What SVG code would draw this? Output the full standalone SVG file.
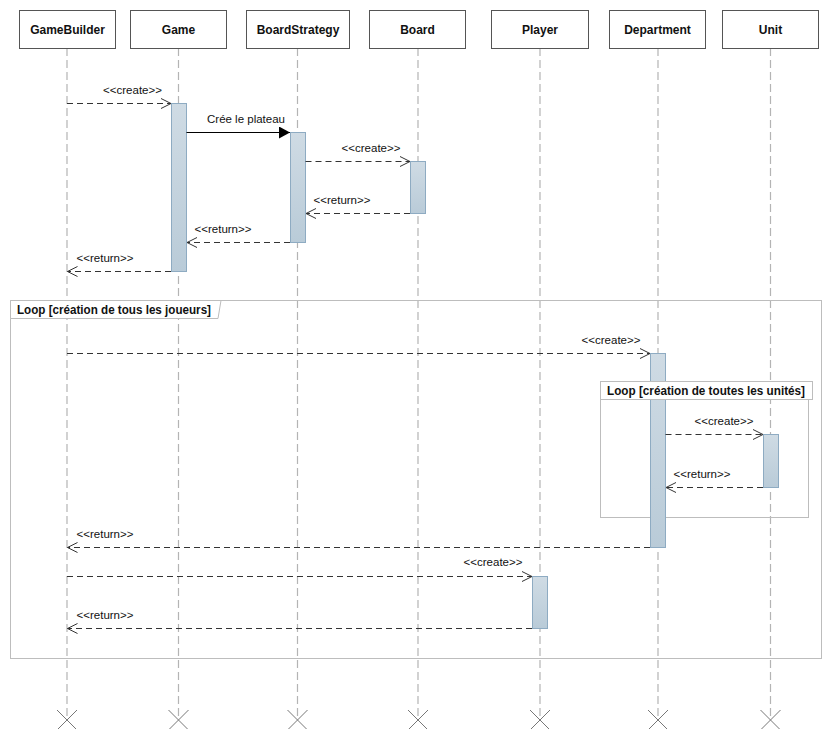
<svg xmlns="http://www.w3.org/2000/svg" width="831" height="729" viewBox="0 0 831 729">
<defs>
<linearGradient id="actg" x1="0" y1="0" x2="0" y2="1">
<stop offset="0" stop-color="#cfdbe4"/>
<stop offset="1" stop-color="#b9cbd8"/>
</linearGradient>
<marker id="open" markerWidth="12" markerHeight="12" refX="11" refY="6" orient="auto" markerUnits="userSpaceOnUse">
<path d="M1,1 L11,6 L1,11" fill="none" stroke="#333" stroke-width="1"/>
</marker>
<marker id="filled" markerWidth="12" markerHeight="12" refX="11" refY="6" orient="auto" markerUnits="userSpaceOnUse">
<path d="M0,0 L11,6 L0,12 Z" fill="#000"/>
</marker>
</defs>
<style>
.hdr{fill:#fff;stroke:#555;stroke-width:1}
.hdrt{font-family:"Liberation Sans",Arial,sans-serif;font-size:12px;font-weight:bold;fill:#111;text-anchor:middle}
.life{stroke:#b4b4b4;stroke-width:1.2;stroke-dasharray:8,4;fill:none}
.x{stroke:#777;stroke-width:1;fill:none}
.act{fill:url(#actg);stroke:#8eabc2;stroke-width:1}
.msg{stroke:#333;stroke-width:1;stroke-dasharray:6,4;fill:none;marker-end:url(#open)}
.call{stroke:#000;stroke-width:1;fill:none;marker-end:url(#filled)}
.lbl{font-family:"Liberation Sans",Arial,sans-serif;font-size:11.5px;fill:#111;text-anchor:middle}
.frame{fill:none;stroke:#bdbdbd;stroke-width:1}
.tab{fill:#fff;stroke:#bdbdbd;stroke-width:1}
.tabt{font-family:"Liberation Sans",Arial,sans-serif;font-size:12px;font-weight:bold;fill:#111}
</style>
<rect width="831" height="729" fill="#fff"/>

<g id="lifelines">
<line class="life" x1="67" y1="48" x2="67" y2="718"/>
<line class="life" x1="178.5" y1="48" x2="178.5" y2="718"/>
<line class="life" x1="297.5" y1="48" x2="297.5" y2="718"/>
<line class="life" x1="418" y1="48" x2="418" y2="718"/>
<line class="life" x1="540" y1="48" x2="540" y2="718"/>
<line class="life" x1="658" y1="48" x2="658" y2="718"/>
<line class="life" x1="770.5" y1="48" x2="770.5" y2="718"/>
<path class="x" d="M57,710 L77,730 M77,710 L57,730"/>
<path class="x" d="M168.5,710 L188.5,730 M188.5,710 L168.5,730"/>
<path class="x" d="M287.5,710 L307.5,730 M307.5,710 L287.5,730"/>
<path class="x" d="M408,710 L428,730 M428,710 L408,730"/>
<path class="x" d="M530,710 L550,730 M550,710 L530,730"/>
<path class="x" d="M648,710 L668,730 M668,710 L648,730"/>
<path class="x" d="M760.5,710 L780.5,730 M780.5,710 L760.5,730"/>
</g>

<g id="GameBuilder"><rect class="hdr" x="19.5" y="10.5" width="96" height="38"/><text class="hdrt" x="67.5" y="34">GameBuilder</text></g>
<g id="Game"><rect class="hdr" x="130.5" y="10.5" width="96" height="38"/><text class="hdrt" x="178.5" y="34">Game</text></g>
<g id="BoardStrategy"><rect class="hdr" x="246.5" y="10.5" width="103" height="38"/><text class="hdrt" x="298" y="34">BoardStrategy</text></g>
<g id="Board"><rect class="hdr" x="369.5" y="10.5" width="96" height="38"/><text class="hdrt" x="417.5" y="34">Board</text></g>
<g id="Player"><rect class="hdr" x="491.5" y="10.5" width="97" height="38"/><text class="hdrt" x="540" y="34">Player</text></g>
<g id="Department"><rect class="hdr" x="609.5" y="10.5" width="96" height="38"/><text class="hdrt" x="657.5" y="34">Department</text></g>
<g id="Unit"><rect class="hdr" x="722.5" y="10.5" width="96" height="38"/><text class="hdrt" x="770.5" y="34">Unit</text></g>

<g id="frame-players">
<rect class="frame" x="10.5" y="300.5" width="811" height="358"/>
<path class="tab" d="M10.5,300.5 L221,300.5 L218,318.5 L10.5,318.5 Z"/>
<text class="tabt" x="17" y="314" textLength="194" lengthAdjust="spacingAndGlyphs">Loop [création de tous les joueurs]</text>
</g>

<g id="activations">
<rect class="act" x="171.5" y="103.5" width="15" height="168"/>
<rect class="act" x="290.5" y="132.5" width="15" height="110"/>
<rect class="act" x="410.5" y="161.5" width="15" height="52"/>
<rect class="act" x="763.5" y="434.5" width="15" height="53"/>
<rect class="act" x="532.5" y="576.5" width="15" height="52"/>
</g>

<g id="frame-units">
<rect class="frame" x="600.5" y="381.5" width="208" height="136"/>
<rect class="act" x="650.5" y="353.5" width="15" height="194"/>
<rect class="tab" x="600.5" y="381.5" width="212" height="18"/>
<text class="tabt" x="607" y="395" textLength="198" lengthAdjust="spacingAndGlyphs">Loop [création de toutes les unités]</text>
</g>

<g id="connectors">
<line class="msg" x1="67" y1="103.5" x2="171" y2="103.5"/>
<line class="call" x1="186.5" y1="132.5" x2="290" y2="132.5"/>
<line class="msg" x1="305.5" y1="161.5" x2="410" y2="161.5"/>
<line class="msg" x1="410" y1="213.5" x2="306" y2="213.5"/>
<line class="msg" x1="290" y1="242.5" x2="187" y2="242.5"/>
<line class="msg" x1="171" y1="271.5" x2="67.5" y2="271.5"/>
<line class="msg" x1="67" y1="353.5" x2="650" y2="353.5"/>
<line class="msg" x1="665.5" y1="434.5" x2="763" y2="434.5"/>
<line class="msg" x1="763" y1="487.5" x2="666" y2="487.5"/>
<line class="msg" x1="650" y1="547.5" x2="67.5" y2="547.5"/>
<line class="msg" x1="67" y1="576.5" x2="532" y2="576.5"/>
<line class="msg" x1="532" y1="628.5" x2="67.5" y2="628.5"/>
</g>

<g id="labels">
<text class="lbl" x="132.5" y="94">&lt;&lt;create&gt;&gt;</text>
<text class="lbl" x="246" y="123">Crée le plateau</text>
<text class="lbl" x="371" y="152">&lt;&lt;create&gt;&gt;</text>
<text class="lbl" x="342" y="204">&lt;&lt;return&gt;&gt;</text>
<text class="lbl" x="223" y="233">&lt;&lt;return&gt;&gt;</text>
<text class="lbl" x="105" y="262">&lt;&lt;return&gt;&gt;</text>
<text class="lbl" x="611" y="344">&lt;&lt;create&gt;&gt;</text>
<text class="lbl" x="724" y="425">&lt;&lt;create&gt;&gt;</text>
<text class="lbl" x="702" y="478">&lt;&lt;return&gt;&gt;</text>
<text class="lbl" x="105" y="538">&lt;&lt;return&gt;&gt;</text>
<text class="lbl" x="493" y="566">&lt;&lt;create&gt;&gt;</text>
<text class="lbl" x="105" y="619">&lt;&lt;return&gt;&gt;</text>
</g>
</svg>
